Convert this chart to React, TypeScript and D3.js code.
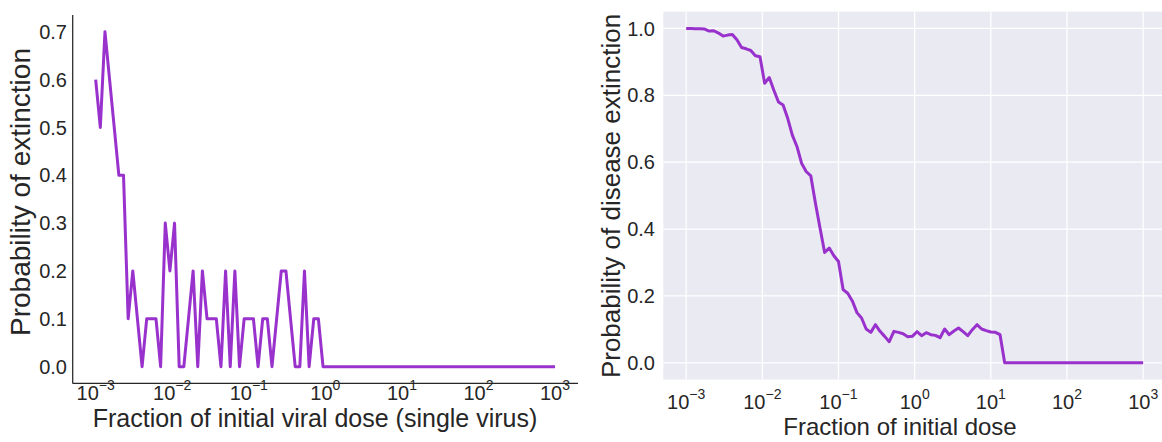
import * as d3 from "d3";
import { useEffect, useRef } from "react";

// sampling grid shared by both panels (logspace(-3, 3, 100))
const doses = d3.range(100).map((i) => 10 ** (-3 + (6 * i) / 99));

// left panel: single virus, probability of extinction
const singleVirus = [
  0.6, 0.5, 0.7, 0.6, 0.5, 0.4, 0.4, 0.1, 0.2, 0.1,
  0, 0.1, 0.1, 0.1, 0, 0.3, 0.2, 0.3, 0, 0,
  0.1, 0.2, 0, 0.2, 0.1, 0.1, 0.1, 0, 0.2, 0,
  0.2, 0, 0.1, 0.1, 0.1, 0, 0.1, 0.1, 0, 0.1,
  0.2, 0.2, 0.1, 0, 0, 0.2, 0, 0.1, 0.1, 0,
  0, 0, 0, 0, 0, 0, 0, 0, 0, 0,
  0, 0, 0, 0, 0, 0, 0, 0, 0, 0,
  0, 0, 0, 0, 0, 0, 0, 0, 0, 0,
  0, 0, 0, 0, 0, 0, 0, 0, 0, 0,
  0, 0, 0, 0, 0, 0, 0, 0, 0, 0,
];

// right panel: probability of disease extinction
const diseaseExtinction = [
  1.0, 1.0, 0.999, 0.999, 0.998, 0.992, 0.993, 0.986, 0.977, 0.98,
  0.982, 0.966, 0.943, 0.939, 0.934, 0.918, 0.915, 0.836, 0.853, 0.815,
  0.78, 0.771, 0.731, 0.681, 0.647, 0.597, 0.572, 0.559, 0.478, 0.403,
  0.33, 0.343, 0.32, 0.303, 0.219, 0.208, 0.185, 0.15, 0.134, 0.101,
  0.091, 0.114, 0.094, 0.079, 0.063, 0.094, 0.091, 0.087, 0.078, 0.079,
  0.093, 0.081, 0.09, 0.084, 0.082, 0.075, 0.101, 0.084, 0.095, 0.104,
  0.093, 0.081, 0.099, 0.114, 0.101, 0.096, 0.092, 0.091, 0.084, 0,
  0, 0, 0, 0, 0, 0, 0, 0, 0, 0,
  0, 0, 0, 0, 0, 0, 0, 0, 0, 0,
  0, 0, 0, 0, 0, 0, 0, 0, 0, 0,
];

const leftYTicks = [0, 0.1, 0.2, 0.3, 0.4, 0.5, 0.6, 0.7];
const rightYTicks = [0, 0.2, 0.4, 0.6, 0.8, 1.0];
const exponents = [-3, -2, -1, 0, 1, 2, 3];

const W = 1162;
const H = 442;
const LINE = "#9932cc";
const INK = "#262626";
const FONT = "'Liberation Sans', Arial, sans-serif";

export default function App() {
  const svgRef = useRef<SVGSVGElement | null>(null);

  useEffect(() => {
    if (!svgRef.current) return;
    const svg = d3.select(svgRef.current);
    svg.selectAll("*").remove();
    svg.attr("width", W).attr("height", H).style("font-family", FONT);

    const drawXTicks = (g: any, x: any, baseline: number) => {
      exponents.forEach((e) => {
        const t = g.append("text")
          .attr("x", x(10 ** e))
          .attr("y", baseline)
          .attr("text-anchor", "middle")
          .attr("fill", INK)
          .style("font-size", "20px");
        t.append("tspan").text("10");
        t.append("tspan")
          .attr("dy", -10)
          .style("font-size", "14px")
          .text(e < 0 ? `\u2212${-e}` : `${e}`);
      });
    };

    // ---------- left panel ----------
    const lx = d3.scaleLog().domain([10 ** -3.3, 10 ** 3.3]).range([72.7, 578]);
    const ly = d3.scaleLinear().domain([-0.035, 0.735]).range([383.4, 15]);
    const left = svg.append("g");

    left.append("line")
      .attr("x1", 72.7).attr("x2", 72.7).attr("y1", 15).attr("y2", 383.4)
      .attr("stroke", INK).attr("stroke-width", 1.25);
    left.append("line")
      .attr("x1", 72.7).attr("x2", 578).attr("y1", 383.4).attr("y2", 383.4)
      .attr("stroke", INK).attr("stroke-width", 1.25);

    left.selectAll("text.yt")
      .data(leftYTicks)
      .enter()
      .append("text")
      .attr("class", "yt")
      .attr("x", 67)
      .attr("y", (d) => ly(d))
      .attr("dy", "0.36em")
      .attr("text-anchor", "end")
      .attr("fill", INK)
      .style("font-size", "20px")
      .text((d) => d.toFixed(1));

    drawXTicks(left, lx, 400);

    left.append("path")
      .datum(singleVirus)
      .attr("fill", "none")
      .attr("stroke", LINE)
      .attr("stroke-width", 3)
      .attr("stroke-linejoin", "round")
      .attr("d", d3.line<number>().x((_, i) => lx(doses[i])).y((d) => ly(d)));

    left.append("text")
      .attr("x", 315).attr("y", 427)
      .attr("text-anchor", "middle")
      .attr("fill", INK)
      .style("font-size", "25px")
      .text("Fraction of initial viral dose (single virus)");

    left.append("text")
      .attr("transform", `translate(30,192) rotate(-90)`)
      .attr("text-anchor", "middle")
      .attr("fill", INK)
      .style("font-size", "28px")
      .text("Probability of extinction");

    // ---------- right panel ----------
    const rx = d3.scaleLog().domain([10 ** -3.3, 10 ** 3.3]).range([663.3, 1166]);
    const ry = d3.scaleLinear().domain([-0.05, 1.05]).range([379.5, 11.7]);
    const right = svg.append("g");

    right.append("rect")
      .attr("x", 663.3).attr("y", 11.7)
      .attr("width", 1166 - 663.3).attr("height", 379.5 - 11.7)
      .attr("fill", "#eaeaf2");

    right.selectAll("line.gx")
      .data(exponents)
      .enter()
      .append("line")
      .attr("class", "gx")
      .attr("x1", (e) => rx(10 ** e)).attr("x2", (e) => rx(10 ** e))
      .attr("y1", 11.7).attr("y2", 379.5)
      .attr("stroke", "#fff").attr("stroke-width", 1.25);

    right.selectAll("line.gy")
      .data(rightYTicks)
      .enter()
      .append("line")
      .attr("class", "gy")
      .attr("x1", 663.3).attr("x2", 1166)
      .attr("y1", (d) => ry(d)).attr("y2", (d) => ry(d))
      .attr("stroke", "#fff").attr("stroke-width", 1.25);

    right.selectAll("text.yt")
      .data(rightYTicks)
      .enter()
      .append("text")
      .attr("class", "yt")
      .attr("x", 655)
      .attr("y", (d) => ry(d))
      .attr("dy", "0.36em")
      .attr("text-anchor", "end")
      .attr("fill", INK)
      .style("font-size", "20px")
      .text((d) => d.toFixed(1));

    drawXTicks(right, rx, 409);

    right.append("path")
      .datum(diseaseExtinction)
      .attr("fill", "none")
      .attr("stroke", LINE)
      .attr("stroke-width", 3)
      .attr("stroke-linejoin", "round")
      .attr("d", d3.line<number>().x((_, i) => rx(doses[i])).y((d) => ry(d)));

    right.append("text")
      .attr("x", 900).attr("y", 435)
      .attr("text-anchor", "middle")
      .attr("fill", INK)
      .style("font-size", "24px")
      .text("Fraction of initial dose");

    right.append("text")
      .attr("transform", `translate(620,196) rotate(-90)`)
      .attr("text-anchor", "middle")
      .attr("fill", INK)
      .style("font-size", "26px")
      .text("Probability of disease extinction");
  }, []);

  return (
    <div style={{ position: "absolute", left: 0, top: 0 }}>
      <svg ref={svgRef}></svg>
    </div>
  );
}
